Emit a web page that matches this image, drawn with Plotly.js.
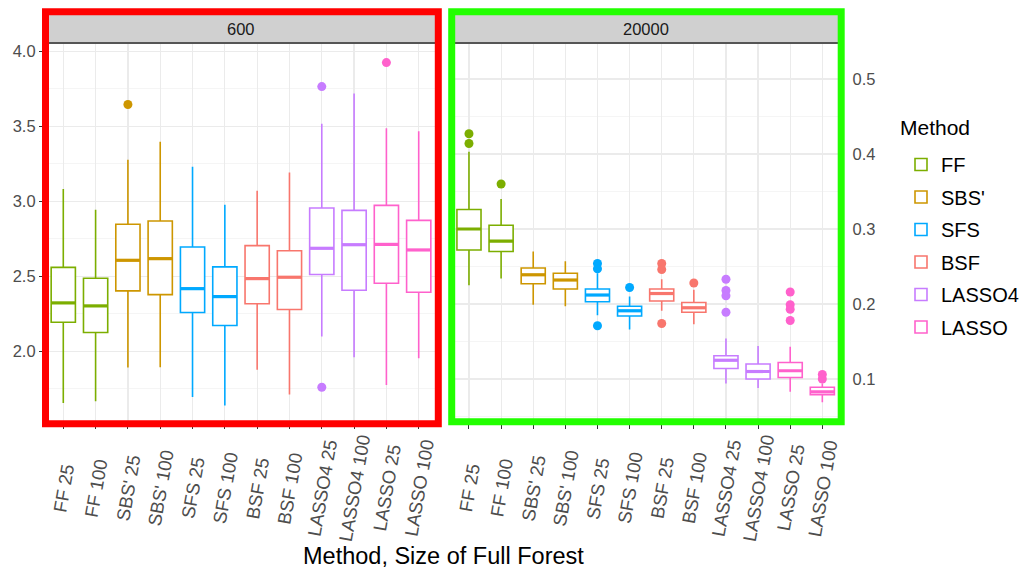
<!DOCTYPE html>
<html>
<head>
<meta charset="utf-8">
<script src="https://cdn.plot.ly/plotly-3.0.1.min.js"></script>
<style>html,body{margin:0;padding:0;background:#fff;}#chart{width:1025px;height:569px;}</style>
</head>
<body>
<div id="chart"></div>
<script>
// ---------- DATA ----------
const categories = ['FF 25','FF 100',"SBS' 25","SBS' 100",'SFS 25','SFS 100','BSF 25','BSF 100','LASSO4 25','LASSO4 100','LASSO 25','LASSO 100'];
const methods = ['FF',"SBS'",'SFS','BSF','LASSO4','LASSO'];
const colors = ['#7CAE00','#CD9600','#00A9FF','#F8766D','#C77CFF','#FF61CC'];
const panels = ['600','20000'];

// Panel "600"
const q1_600  = [2.193,2.125,2.402,2.377,2.258,2.171,2.316,2.278,2.511,2.406,2.453,2.393];
const med_600 = [2.322,2.302,2.606,2.617,2.417,2.364,2.484,2.493,2.686,2.710,2.712,2.675];
const q3_600  = [2.559,2.486,2.846,2.868,2.695,2.562,2.704,2.670,2.955,2.939,2.972,2.872];
const lo_600  = [1.654,1.667,1.891,1.893,1.694,1.638,1.876,1.712,2.098,1.960,1.774,1.953];
const hi_600  = [3.081,2.943,3.276,3.396,3.230,2.977,3.070,3.192,3.516,3.718,3.487,3.467];
const out600_cat = ["SBS' 25",'LASSO4 25','LASSO4 25','LASSO 25'];
const out600_val = [3.645,3.764,1.760,3.924];

// Panel "20000"
const q1_20k  = [0.272,0.270,0.227,0.220,0.203,0.184,0.204,0.189,0.114,0.100,0.102,0.079];
const med_20k = [0.300,0.284,0.239,0.232,0.212,0.191,0.214,0.195,0.125,0.110,0.111,0.083];
const q3_20k  = [0.326,0.305,0.248,0.241,0.220,0.197,0.220,0.202,0.131,0.120,0.122,0.089];
const lo_20k  = [0.225,0.234,0.199,0.197,0.185,0.166,0.191,0.173,0.094,0.088,0.083,0.069];
const hi_20k  = [0.403,0.340,0.270,0.257,0.241,0.210,0.233,0.219,0.154,0.144,0.143,0.094];
const out20k_cat = ['FF 25','FF 25','FF 100','SFS 25','SFS 25','SFS 25','SFS 100','BSF 25','BSF 25','BSF 25','BSF 100',
                    'LASSO4 25','LASSO4 25','LASSO4 25','LASSO4 25','LASSO 25','LASSO 25','LASSO 25','LASSO 25','LASSO 100','LASSO 100'];
const out20k_val = [0.427,0.414,0.360,0.254,0.247,0.171,0.222,0.254,0.246,0.174,0.228,
                    0.233,0.218,0.211,0.189,0.216,0.199,0.193,0.178,0.106,0.100];

// ---------- BUILD ----------
const W = 1025, H = 569;
const px = v => v / W;
const py = v => 1 - v / H;
const FONT = 'Liberation Sans, Arial, Helvetica, sans-serif';

const panelData = [
  {q1:q1_600, med:med_600, q3:q3_600, lo:lo_600, hi:hi_600, oc:out600_cat, ov:out600_val, xa:'x', ya:'y'},
  {q1:q1_20k, med:med_20k, q3:q3_20k, lo:lo_20k, hi:hi_20k, oc:out20k_cat, ov:out20k_val, xa:'x2', ya:'y2'}
];

const traces = [];
const shapes = [];
panelData.forEach((p, pi) => {
  methods.forEach((m, mi) => {
    const idx = categories.map((c, i) => i).filter(i => Math.floor(i / 2) === mi);
    traces.push({
      type: 'box',
      name: m,
      legendgroup: m,
      showlegend: pi === 0,
      x: idx.map(i => categories[i]),
      q1: idx.map(i => p.q1[i]),
      median: idx.map(i => p.med[i]),
      q3: idx.map(i => p.q3[i]),
      lowerfence: idx.map(i => p.lo[i]),
      upperfence: idx.map(i => p.hi[i]),
      boxpoints: false,
      width: 0.75,
      whiskerwidth: 0,
      fillcolor: 'white',
      line: {color: colors[mi], width: 1.6},
      xaxis: p.xa, yaxis: p.ya,
      hoverinfo: 'skip'
    });
    const ox = [], oy = [];
    p.oc.forEach((c, k) => {
      if (Math.floor(categories.indexOf(c) / 2) === mi) { ox.push(c); oy.push(p.ov[k]); }
    });
    if (ox.length) {
      traces.push({
        type: 'scatter', mode: 'markers', x: ox, y: oy,
        marker: {color: colors[mi], size: 9},
        showlegend: false, legendgroup: m,
        xaxis: p.xa, yaxis: p.ya, hoverinfo: 'skip'
      });
    }
  });
  // thick median lines
  categories.forEach((c, i) => {
    const mi = Math.floor(i / 2);
    shapes.push({type: 'line', xref: p.xa, yref: p.ya, x0: i - 0.375, x1: i + 0.375,
      y0: p.med[i], y1: p.med[i], line: {color: colors[mi], width: 3.2}, layer: 'above'});
  });
});

// panel geometry (pixels)
const P1 = [43.9, 438.1], P2 = [449.7, 841.6];
const TOP = 44, BOT = 422;

// strips
[[P1, '600'], [P2, '20000']].forEach(([pp, lab]) => {
  shapes.push({type: 'rect', xref: 'paper', yref: 'paper', x0: px(pp[0]), x1: px(pp[1]), y0: py(TOP), y1: py(14),
    fillcolor: '#D0D0D0', line: {width: 0}, layer: 'above'});
  shapes.push({type: 'line', xref: 'paper', yref: 'paper', x0: px(pp[0]), x1: px(pp[1]), y0: py(43), y1: py(43),
    line: {color: '#555555', width: 2}, layer: 'above'});
});
// coloured frames
shapes.push({type: 'rect', xref: 'paper', yref: 'paper', x0: px(45.5), x1: px(438.3), y0: py(423.7), y1: py(11.7),
  line: {color: '#FF0000', width: 7}, fillcolor: 'rgba(0,0,0,0)', layer: 'above'});
shapes.push({type: 'rect', xref: 'paper', yref: 'paper', x0: px(451.7), x1: px(841.2), y0: py(421.7), y1: py(11.7),
  line: {color: '#22FF00', width: 7}, fillcolor: 'rgba(0,0,0,0)', layer: 'above'});

const annotations = [];
annotations.push({xref: 'paper', yref: 'paper', x: px((P1[0] + P1[1]) / 2), y: py(29), text: panels[0], showarrow: false,
  font: {size: 16.5, color: '#1A1A1A', family: FONT}, xanchor: 'center', yanchor: 'middle'});
annotations.push({xref: 'paper', yref: 'paper', x: px((P2[0] + P2[1]) / 2), y: py(29), text: panels[1], showarrow: false,
  font: {size: 16.5, color: '#1A1A1A', family: FONT}, xanchor: 'center', yanchor: 'middle'});
['x', 'x2'].forEach(xa => {
  categories.forEach(c => {
    annotations.push({xref: xa, yref: 'paper', x: c, y: py(488), text: c, textangle: -80, showarrow: false,
      font: {size: 18.5, color: '#4D4D4D', family: FONT}, xanchor: 'center', yanchor: 'middle'});
  });
});
annotations.push({xref: 'paper', yref: 'paper', x: px(443), y: py(556), text: 'Method, Size of Full Forest', showarrow: false,
  font: {size: 23.5, color: '#000000', family: FONT}, xanchor: 'center', yanchor: 'middle'});
// legend title
annotations.push({xref: 'paper', yref: 'paper', x: px(898), y: py(127), text: 'Method', showarrow: false,
  font: {size: 21, color: '#000000', family: FONT}, xanchor: 'left', yanchor: 'middle'});

const gridCommon = {gridcolor: '#EBEBEB', gridwidth: 1.2, zeroline: false, showline: false};
const xCommon = Object.assign({}, gridCommon, {type: 'category', categoryorder: 'array', categoryarray: categories,
  range: [-0.6, 11.6], showticklabels: false, ticks: 'outside', ticklen: 6, tickcolor: '#333333', tickwidth: 1, fixedrange: true});

const layout = {
  width: W, height: H,
  margin: {l: 0, r: 0, t: 0, b: 0, pad: 0},
  paper_bgcolor: 'white', plot_bgcolor: 'white',
  font: {family: FONT, color: '#000'},
  showlegend: true,
  boxmode: 'overlay',
  xaxis: Object.assign({}, xCommon, {domain: [px(P1[0]), px(P1[1])], anchor: 'y'}),
  xaxis2: Object.assign({}, xCommon, {domain: [px(P2[0]), px(P2[1])], anchor: 'y2'}),
  yaxis: Object.assign({}, gridCommon, {domain: [py(BOT), py(TOP)], anchor: 'x', range: [1.528, 4.048],
    tickmode: 'linear', tick0: 2.0, dtick: 0.5, tickformat: '.1f',
    ticks: 'outside', ticklen: 4, tickcolor: '#333333', tickfont: {size: 16.5, color: '#4D4D4D', family: FONT},
    minor: {showgrid: true, gridcolor: '#F3F3F3', gridwidth: 0.8, tick0: 1.75, dtick: 0.5}, fixedrange: true}),
  yaxis2: Object.assign({}, gridCommon, {domain: [py(BOT), py(TOP)], anchor: 'x2', side: 'right', range: [0.0427, 0.5467],
    tickmode: 'linear', tick0: 0.1, dtick: 0.1, tickformat: '.1f',
    ticks: '', ticklabelstandoff: 10, tickfont: {size: 16.5, color: '#4D4D4D', family: FONT},
    minor: {showgrid: true, gridcolor: '#F3F3F3', gridwidth: 0.8, tick0: 0.05, dtick: 0.1}, fixedrange: true}),
  legend: {
    x: px(901), y: py(145), xanchor: 'left', yanchor: 'top',
    traceorder: 'grouped', tracegroupgap: 3.5,
    font: {size: 20, color: '#000', family: FONT},
    bgcolor: 'rgba(0,0,0,0)', borderwidth: 0
  },
  shapes: shapes,
  annotations: annotations,
  hovermode: false
};

Plotly.newPlot('chart', traces, layout, {staticPlot: true, displayModeBar: false});
</script>
</body>
</html>
